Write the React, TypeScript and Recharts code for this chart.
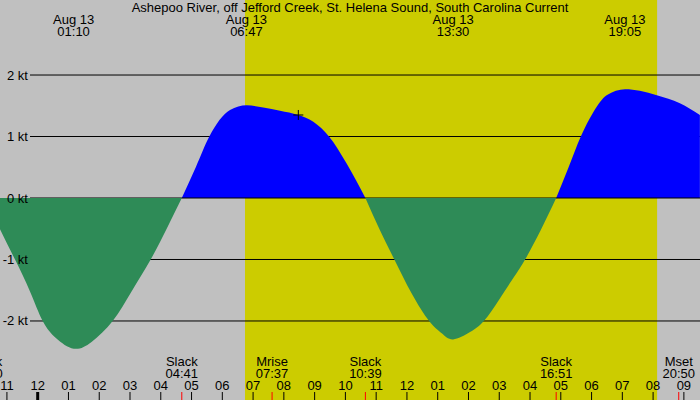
import {
  Area,
  ComposedChart,
  ReferenceArea,
  ReferenceDot,
  ReferenceLine,
  XAxis,
  YAxis,
} from "recharts";

// hours from midnight Aug 13, and current in knots (+ flood, - ebb)
const TIMES = [
  -1.664, -1.225, -0.737, -0.25, 0.163, 0.6, 1.17, 1.75, 2.437, 3.05, 3.672, 4.2,
  4.683, 5.145, 5.578, 6.25, 6.79, 7.33, 7.875, 8.47, 8.957, 9.467, 10.04,
  10.65, 11.1, 11.59, 12.15, 12.72, 13.13, 13.5, 14.05, 14.5, 15.0, 15.5, 15.84, 16.35,
  16.85, 17.26, 17.65, 18.06, 18.49, 19.09, 19.57, 20.12, 20.87, 21.52,
];
const CURRENT = [
  0, -0.51, -1.0, -1.52, -2.0, -2.28, -2.45, -2.34, -2.0, -1.52, -1.0, -0.49,
  0, 0.51, 1.0, 1.43, 1.507, 1.47, 1.42, 1.35, 1.24, 1.0, 0.56,
  0, -0.5, -1.0, -1.55, -2.0, -2.2, -2.3, -2.18, -2.0, -1.65, -1.27, -1.0, -0.52,
  0, 0.51, 1.0, 1.4, 1.67, 1.77, 1.745, 1.67, 1.54, 1.35,
];

const HOURS = [-1, 0, 1, 2, 3, 4, 5, 6, 7, 8, 9, 10, 11, 12, 13, 14, 15, 16, 17, 18, 19, 20, 21];
const Y_TICKS = [2, 1, 0, -1, -2];
const GRID_LEVELS = [2, 1, -1, -2];

const EXTREMA_TIMES = [1.1667, 6.7833, 13.5, 19.0833];
const EXTREMA_LABELS = ["01:10", "06:47", "13:30", "19:05"];
const EXTREMA_DATE = "Aug 13";

const EVENT_TIMES = [-1.667, 4.683, 7.617, 10.65, 16.85, 20.833];
const EVENT_NAMES = ["Slack", "Slack", "Mrise", "Slack", "Slack", "Mset"];
const EVENT_CLOCK = ["22:20", "04:41", "07:37", "10:39", "16:51", "20:50"];

const SUNRISE = 6.737;
const SUNSET = 20.13;
const NOW = { t: 8.47, v: 1.35 };

const T_MIN = -1.225;
const T_MAX = 21.524;
const GRID_START = -0.25;
const Y_MIN = -3.285;
const Y_MAX = 3.22;

const TITLE = "Ashepoo River, off Jefford Creek, St. Helena Sound, South Carolina Current";

const FONT = "'Liberation Sans', Arial, sans-serif";
const GREY = "#c0c0c0";
const DAY = "#cccc00";
const FLOOD = "#0000ff";
const EBB = "#2e8b57";

const rows = TIMES.map((t, i) => {
  const v = CURRENT[i];
  return { t, flood: v >= 0 ? v : null, ebb: v <= 0 ? v : null };
});

const txt = { fontFamily: FONT, fontSize: 13, fill: "#000" };

function hourLabel(t: number) {
  const h = ((t % 12) + 12) % 12;
  return String(h === 0 ? 12 : h).padStart(2, "0");
}

function HourTick(props: any) {
  const { x, payload } = props;
  const midnight = payload.value % 24 === 0;
  return (
    <g>
      <text x={x} y={390} textAnchor="middle" {...txt}>
        {hourLabel(payload.value)}
      </text>
      <line x1={x} x2={x} y1={392} y2={400} stroke="#000" strokeWidth={midnight ? 3 : 1} />
    </g>
  );
}

function EventTick(props: any) {
  const { x, index } = props;
  return (
    <g>
      <text x={x} y={366} textAnchor="middle" {...txt}>
        {EVENT_NAMES[index]}
      </text>
      <text x={x} y={378} textAnchor="middle" {...txt}>
        {EVENT_CLOCK[index]}
      </text>
      <line x1={x} x2={x} y1={392} y2={400} stroke="#ff0000" strokeWidth={1} />
    </g>
  );
}

function ExtremaTick(props: any) {
  const { x, index } = props;
  return (
    <g>
      <text x={x} y={24} textAnchor="middle" {...txt}>
        {EXTREMA_DATE}
      </text>
      <text x={x} y={36} textAnchor="middle" {...txt}>
        {EXTREMA_LABELS[index]}
      </text>
    </g>
  );
}

function KtTick(props: any) {
  const { y, payload } = props;
  return (
    <text x={28} y={y + 4.5} textAnchor="end" {...txt}>
      {`${payload.value} kt`}
    </text>
  );
}

function Plus(props: any) {
  const { cx, cy } = props;
  return (
    <g stroke="#000" strokeWidth={1}>
      <line x1={cx - 5} x2={cx + 5} y1={cy} y2={cy} />
      <line x1={cx} x2={cx} y1={cy - 5} y2={cy + 5} />
    </g>
  );
}

export default function App() {
  return (
    <div style={{ position: "absolute", left: 0, top: 0, width: 700, height: 400, background: GREY }}>
      <ComposedChart width={700} height={400} data={rows} margin={{ top: 0, right: 0, bottom: 0, left: 0 }}>
        <ReferenceArea x1={SUNRISE} x2={SUNSET} fill={DAY} fillOpacity={1} stroke="none" zIndex={-200} />
        {GRID_LEVELS.map((lv) => (
          <ReferenceLine
            key={lv}
            segment={[
              { x: GRID_START, y: lv },
              { x: T_MAX, y: lv },
            ]}
            stroke="#000"
            strokeWidth={1}
            zIndex={-150}
          />
        ))}
        <Area
          dataKey="flood"
          type="monotone"
          baseValue={0}
          fill={FLOOD}
          fillOpacity={1}
          stroke="none"
          dot={false}
          activeDot={false}
          isAnimationActive={false}
          zIndex={100}
        />
        <ReferenceLine
          segment={[
            { x: GRID_START, y: 0 },
            { x: T_MAX, y: 0 },
          ]}
          stroke="#000"
          strokeWidth={1}
          zIndex={150}
        />
        <Area
          dataKey="ebb"
          type="natural"
          baseValue={0}
          fill={EBB}
          fillOpacity={1}
          stroke="none"
          dot={false}
          activeDot={false}
          isAnimationActive={false}
          zIndex={200}
        />
        <ReferenceDot x={NOW.t} y={NOW.v} shape={Plus} zIndex={300} />
        <XAxis
          dataKey="t"
          type="number"
          domain={[T_MIN, T_MAX]}
          allowDataOverflow
          ticks={HOURS}
          interval={0}
          mirror
          axisLine={false}
          tickLine={false}
          tick={HourTick}
        />
        <XAxis
          xAxisId="events"
          dataKey="t"
          type="number"
          domain={[T_MIN, T_MAX]}
          allowDataOverflow
          ticks={EVENT_TIMES}
          interval={0}
          mirror
          axisLine={false}
          tickLine={false}
          tick={EventTick}
        />
        <XAxis
          xAxisId="extrema"
          dataKey="t"
          orientation="top"
          type="number"
          domain={[T_MIN, T_MAX]}
          allowDataOverflow
          ticks={EXTREMA_TIMES}
          interval={0}
          mirror
          axisLine={false}
          tickLine={false}
          tick={ExtremaTick}
        />
        <YAxis
          type="number"
          domain={[Y_MIN, Y_MAX]}
          allowDataOverflow
          ticks={Y_TICKS}
          interval={0}
          mirror
          axisLine={false}
          tickLine={false}
          tick={KtTick}
        />
        <text x={350} y={12} textAnchor="middle" {...txt}>
          {TITLE}
        </text>
      </ComposedChart>
    </div>
  );
}
